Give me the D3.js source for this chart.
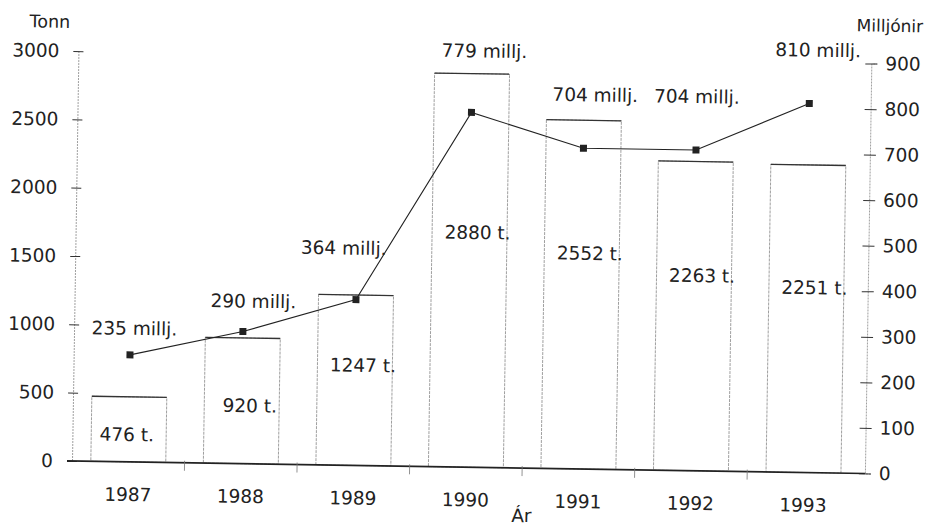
<!DOCTYPE html>
<html>
<head>
<meta charset="utf-8">
<script src="https://cdn.jsdelivr.net/npm/d3@7"></script>
<style>
  html, body { margin: 0; padding: 0; background: #fff; }
  svg text { font-family: "DejaVu Sans", sans-serif; fill: #222; }
</style>
</head>
<body>
<div id="chart"></div>
<script>
// data
const years = ['1987', '1988', '1989', '1990', '1991', '1992', '1993'];
const tonn = [476, 920, 1247, 2880, 2552, 2263, 2251];
const milljonir = [235, 290, 364, 779, 704, 704, 810];
const tonnTicks = [0, 500, 1000, 1500, 2000, 2500, 3000];
const milljTicks = [0, 100, 200, 300, 400, 500, 600, 700, 800, 900];

// label placement (layout only)
const barLabelFrac = [0.32, 0.41, 0.55, 0.58, 0.6, 0.61, 0.58];
const lineLabelDx = [4, 10, -13, 12, 11, 0, 8];
const lineLabelDy = [-20, -24, -45, -55, -47, -47, -47];

const width = 929;
const height = 528;
const left = 72, right = 865, zeroY = 461, topY = 51;

const svg = d3.select('#chart')
  .append('svg')
  .attr('width', width)
  .attr('height', height)
  .style('background', '#fff');

// the scan is slightly tilted, so tilt the whole plot a bit
const g = svg.append('g')
  .attr('transform', `rotate(0.9, ${left}, ${zeroY})`);

const x = d3.scaleBand()
  .domain(years)
  .range([left, right])
  .paddingInner(0.334)
  .paddingOuter(0.19)
  .align(0.44);

const yL = d3.scaleLinear().domain([0, 3000]).range([zeroY, topY]);
const yR = d3.scaleLinear().domain([0, 900]).range([zeroY, topY]);

const fs = '18.5px';

// left axis
g.append('g')
  .attr('transform', `translate(${left},0)`)
  .call(d3.axisLeft(yL).tickValues(tonnTicks).tickFormat(d3.format('d')).tickSize(5).tickPadding(14))
  .call((a) => a.select('.domain').attr('stroke', '#888').attr('stroke-dasharray', '2,1').attr('stroke-width', 0.8))
  .call((a) => a.selectAll('.tick line').attr('x1', 5).attr('stroke', '#333'))
  .call((a) => a.selectAll('.tick text').style('font-size', fs).attr('fill', '#222'));

// right axis
g.append('g')
  .attr('transform', `translate(${right},0)`)
  .call(d3.axisRight(yR).tickValues(milljTicks).tickFormat(d3.format('d')).tickSize(6).tickPadding(8))
  .call((a) => a.select('.domain').attr('stroke', '#888').attr('stroke-dasharray', '2,1').attr('stroke-width', 0.8))
  .call((a) => a.selectAll('.tick line').attr('x1', -6).attr('stroke', '#333'))
  .call((a) => a.selectAll('.tick text').style('font-size', fs).attr('fill', '#222'));

// axis titles
g.append('text').attr('x', left - 29).attr('y', 28)
  .attr('text-anchor', 'middle').style('font-size', '17.5px').text('Tonn');
g.append('text').attr('x', right + 18).attr('y', 19)
  .attr('text-anchor', 'middle').style('font-size', '17px').text('Milljónir');

// bars
const bars = g.append('g');
bars.selectAll('rect')
  .data(tonn)
  .enter()
  .append('rect')
  .attr('x', (d, i) => x(years[i]))
  .attr('y', (d) => yL(d))
  .attr('width', x.bandwidth())
  .attr('height', (d) => yL(0) - yL(d))
  .attr('fill', '#fff')
  .attr('stroke', '#888')
  .attr('stroke-width', 0.8)
  .attr('stroke-dasharray', '3,1');

bars.selectAll('line.top')
  .data(tonn)
  .enter()
  .append('line')
  .attr('class', 'top')
  .attr('x1', (d, i) => x(years[i]))
  .attr('x2', (d, i) => x(years[i]) + x.bandwidth())
  .attr('y1', (d) => yL(d))
  .attr('y2', (d) => yL(d))
  .attr('stroke', '#333')
  .attr('stroke-width', 1.3);

// bar value labels
g.append('g')
  .selectAll('text')
  .data(tonn)
  .enter()
  .append('text')
  .attr('x', (d, i) => x(years[i]) + x.bandwidth() / 2 + (i === 0 ? -2 : 8))
  .attr('y', (d, i) => yL(d * barLabelFrac[i]))
  .attr('text-anchor', 'middle')
  .style('font-size', fs)
  .text((d) => `${d} t.`);

// bottom axis
g.append('g')
  .attr('transform', `translate(0,${zeroY})`)
  .call(d3.axisBottom(x).tickSize(0).tickPadding(26))
  .call((a) => a.select('.domain').attr('stroke', '#222').attr('stroke-width', 1.6).attr('d', `M${left - 5},0H${right}`))
  .call((a) => a.selectAll('.tick text').style('font-size', fs).attr('fill', '#222'));

// separator ticks between years
const gap = x.step() - x.bandwidth();
g.append('g')
  .selectAll('line')
  .data(years.slice(1))
  .enter()
  .append('line')
  .attr('x1', (d) => x(d) - gap / 2)
  .attr('x2', (d) => x(d) - gap / 2)
  .attr('y1', zeroY - 2)
  .attr('y2', zeroY + 8)
  .attr('stroke', '#777')
  .attr('stroke-width', 0.8);

g.append('text')
  .attr('x', x(years[4]) - gap / 2)
  .attr('y', zeroY + 54)
  .attr('text-anchor', 'middle')
  .style('font-size', fs)
  .text('Ár');

// line of milljónir
const cx = (i) => x(years[i]) + x.bandwidth() / 2;
const line = d3.line()
  .x((d, i) => cx(i))
  .y((d) => yR(d));

g.append('path')
  .datum(milljonir)
  .attr('fill', 'none')
  .attr('stroke', '#222')
  .attr('stroke-width', 1.1)
  .attr('d', line);

g.append('g')
  .selectAll('rect')
  .data(milljonir)
  .enter()
  .append('rect')
  .attr('x', (d, i) => cx(i) - 3.5)
  .attr('y', (d) => yR(d) - 3.5)
  .attr('width', 7)
  .attr('height', 7)
  .attr('fill', '#222');

g.append('g')
  .selectAll('text')
  .data(milljonir)
  .enter()
  .append('text')
  .attr('x', (d, i) => cx(i) + lineLabelDx[i])
  .attr('y', (d, i) => yR(d) + lineLabelDy[i])
  .attr('text-anchor', 'middle')
  .style('font-size', fs)
  .text((d) => `${d} millj.`);
</script>
</body>
</html>
